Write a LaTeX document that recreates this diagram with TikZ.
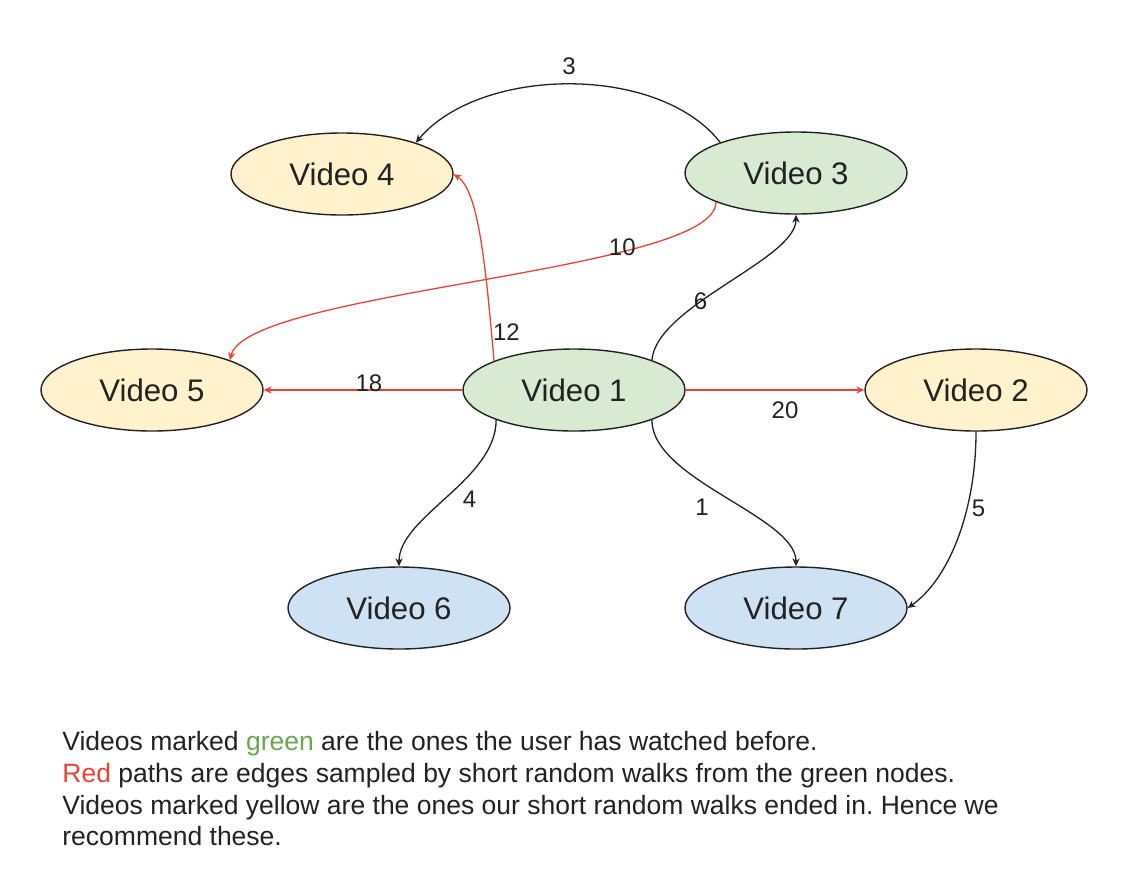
\documentclass[tikz,border=0pt]{standalone}
\usepackage{fontspec}
\setmainfont{Liberation Sans}
\usetikzlibrary{arrows.meta,shapes.geometric}
\definecolor{vyellow}{HTML}{FFF2CC}
\definecolor{vgreen}{HTML}{D9EAD3}
\definecolor{vblue}{HTML}{CFE2F3}
\definecolor{ered}{HTML}{EA4335}
\definecolor{tgreen}{HTML}{6AA84F}
\definecolor{ink}{HTML}{222222}
\frenchspacing
\begin{document}
\begin{tikzpicture}[x=0.5pt,y=0.5pt,
  video/.style={ellipse, draw=ink, line width=0.7pt, minimum width=111pt, minimum height=41pt, inner sep=0pt, font=\fontsize{15.6}{18}\selectfont, text=ink},
  blk/.style={draw=ink, line width=0.65pt, -{Stealth[length=4pt,width=3.6pt]}},
  redge/.style={draw=ered, line width=0.65pt, -{Stealth[length=4pt,width=3.6pt]}},
  lbl/.style={font=\fontsize{12}{14}\selectfont, text=ink, inner sep=0pt}
]
\fill[white] (0,0) rectangle (1138,-868);
\useasboundingbox (0,0) rectangle (1138,-868);

\node[video, fill=vyellow] (v4) at (342,-174) {Video 4};
\node[video, fill=vgreen]  (v3) at (796,-173) {Video 3};
\node[video, fill=vyellow] (v5) at (152,-390) {Video 5};
\node[video, fill=vgreen]  (v1) at (574,-390) {Video 1};
\node[video, fill=vyellow] (v2) at (976,-390) {Video 2};
\node[video, fill=vblue]   (v6) at (399,-608) {Video 6};
\node[video, fill=vblue]   (v7) at (796,-608) {Video 7};

% black edges
\draw[blk] (v3.158) to[out=128,in=50,distance=50pt] node[lbl,pos=0.5,yshift=9pt]{3} (v4.23);
\draw[blk] (v1.21) to[out=85,in=-90,out distance=27.5pt,in distance=22.5pt] node[lbl,pos=0.38]{6} (v3.south);
\draw[blk] (v1.201) to[out=-90,in=90,out distance=30pt,in distance=25pt] node[lbl,pos=0.5,xshift=11pt,yshift=-1pt]{4} (v6.north);
\draw[blk] (v1.339) to[out=-90,in=90,out distance=30pt,in distance=25pt] node[lbl,pos=0.5,xshift=-11pt,yshift=-5pt]{1} (v7.north);
\draw[blk] (v2.south) to[out=-90,in=35,out distance=40pt,in distance=25pt] node[lbl,pos=0.35,xshift=6pt,yshift=1pt]{5} (v7.east);

% red edges
\draw[redge] (v1.160) to[out=95,in=-35,out distance=50pt,in distance=15pt] node[lbl,pos=0.1,xshift=7.5pt]{12} (v4.east);
\draw[redge] (v3.200) to[out=-90,in=76,out distance=35pt,in distance=36pt] node[lbl,pos=0.3,xshift=4pt,yshift=3.5pt]{10} (v5.21);
\draw[redge] (v1.west) -- node[lbl,pos=0.47,yshift=3.25pt]{18} (v5.east);
\draw[redge] (v1.east) -- node[lbl,pos=0.556,yshift=-10pt]{20} (v2.west);

\node[anchor=north west, align=left, inner sep=0pt, text=ink, font=\fontsize{13.25}{15.85}\selectfont] (cap) at (62,-731)
{Videos marked \textcolor{tgreen}{green} are the ones the user has watched before.\\
\textcolor{ered}{Red} paths are edges sampled by short random walks from the green nodes.\\
Videos marked yellow are the ones our short random walks ended in. Hence we\\
recommend these.};
\end{tikzpicture}
\end{document}
